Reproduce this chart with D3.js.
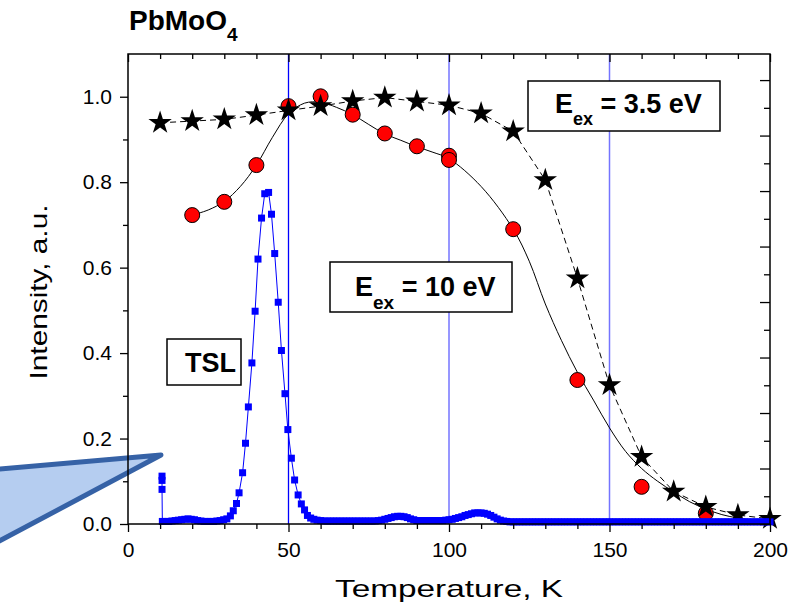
<!DOCTYPE html>
<html><head><meta charset="utf-8">
<script src="https://cdn.jsdelivr.net/npm/d3@7/dist/d3.min.js"></script>
<style>body{margin:0;background:#fff}text{font-family:"Liberation Sans",Arial,sans-serif}</style>
</head><body><svg id="c" width="793" height="607"></svg>
<script>
// ---------- data ----------
const xMajorTicks = [0, 50, 100, 150, 200];
const xMinorTicks = [10,20,30,40,60,70,80,90,110,120,130,140,160,170,180,190];
const yMajorTicks = [0, 0.2, 0.4, 0.6, 0.8, 1.0];
const yMinorTicks = [0.1, 0.3, 0.5, 0.7, 0.9];
const rightMajorTicks = [0,1,2,3,4,5,6,7,8];
const rightMinorTicks = [0.5,1.5,2.5,3.5,4.5,5.5,6.5,7.5];
const guideLinesT = [50, 100, 150];

// E_ex = 3.5 eV (stars)
const starT = [10,20,30,40,50,60,70,80,90,100,110,120,130,140,150,160,170,180,190,200];
const starI = [0.939,0.943,0.947,0.957,0.968,0.978,0.99,0.998,0.989,0.98,0.961,0.919,0.805,0.575,0.325,0.157,0.076,0.04,0.021,0.012];

// E_ex = 10 eV (circles)
const circT = [20,30,40,50,60,70,80,90,100,100,120,140,160,180];
const circI = [0.723,0.754,0.84,0.978,1.001,0.958,0.914,0.884,0.862,0.852,0.69,0.337,0.087,0.025];

// smooth curve drawn through the 10 eV points
const fitT = [20,25,30,35,40,45,50,55,60,65,70,75,80,85,90,95,100,110,120,125,130,135,140,145,150,155,160,165,170,175,180,185,190,195,200];
const fitI = [0.723,0.735,0.755,0.79,0.84,0.905,0.96,0.985,0.987,0.975,0.958,0.935,0.913,0.898,0.883,0.87,0.855,0.79,0.69,0.615,0.515,0.43,0.355,0.29,0.225,0.17,0.13,0.1,0.075,0.052,0.035,0.022,0.014,0.009,0.006];

// TSL curve [T, I]
const tslPoints = [
 [10.6,0.112],[10.6,0.102],[10.6,0.081],[10.7,0.006],
 [11.7,0.006],[12.7,0.006],[13.7,0.007],[14.7,0.008],[15.7,0.009],[16.7,0.010],[17.7,0.011],[18.7,0.012],[19.7,0.011],
 [20.7,0.010],[21.7,0.008],[22.7,0.007],[23.7,0.006],[24.7,0.006],[25.7,0.006],[26.7,0.006],[27.7,0.007],[28.7,0.008],
 [29.8,0.010],[30.8,0.012],[31.9,0.019],[32.8,0.031],[33.8,0.048],[34.6,0.073],[35.7,0.12],[36.6,0.189],[37.5,0.274],
 [38.6,0.377],[39.6,0.498],[40.5,0.62],[41.6,0.716],[42.6,0.773],[43.8,0.776],[44.7,0.725],[45.7,0.633],[46.8,0.519],
 [47.8,0.406],[48.9,0.305],[49.8,0.221],[50.9,0.154],[51.9,0.103],[53.0,0.068],[54.0,0.047],[55.0,0.033],[55.9,0.020],
 [56.9,0.014],[57.9,0.011],[58.9,0.009],[60,0.008],
 [61,0.007],[62,0.007],[63,0.007],[64,0.007],[65,0.007],[66,0.007],[67,0.007],[68,0.007],[69,0.007],[70,0.007],
 [71,0.007],[72,0.007],[73,0.007],[74,0.007],[75,0.007],[76,0.007],[77,0.007],[78,0.008],[79,0.009],[80,0.011],
 [81,0.013],[82,0.015],[83,0.017],[84,0.018],[85,0.018],[86,0.017],[87,0.015],[88,0.012],[89,0.010],[90,0.008],
 [91,0.008],[92,0.008],[93,0.008],[94,0.008],[95,0.008],[96,0.008],[97,0.008],[98,0.008],[99,0.009],[100,0.010],
 [101,0.011],[102,0.013],[103,0.015],[104,0.017],[105,0.020],[106,0.022],[107,0.024],[108,0.026],[109,0.026],[110,0.026],
 [111,0.025],[112,0.023],[113,0.020],[114,0.016],[115,0.012],[116,0.009],[117,0.007],[118,0.006],[119,0.005],[120,0.005],
 [121,0.005],[122,0.005],[123,0.005],[124,0.005],[125,0.005],[126,0.005],[127,0.005],[128,0.005],[129,0.005],[130,0.005],
 [131,0.005],[132,0.005],[133,0.005],[134,0.005],[135,0.005],[136,0.005],[137,0.005],[138,0.005],[139,0.005],[140,0.005],
 [141,0.005],[142,0.005],[143,0.005],[144,0.005],[145,0.005],[146,0.005],[147,0.005],[148,0.005],[149,0.005],[150,0.005],
 [151,0.005],[152,0.005],[153,0.005],[154,0.005],[155,0.005],[156,0.005],[157,0.005],[158,0.005],[159,0.005],[160,0.005],
 [161,0.005],[162,0.005],[163,0.005],[164,0.005],[165,0.005],[166,0.005],[167,0.005],[168,0.005],[169,0.005],[170,0.005],
 [171,0.005],[172,0.005],[173,0.005],[174,0.005],[175,0.005],[176,0.005],[177,0.005],[178,0.005],[179,0.005],[180,0.005],
 [181,0.005],[182,0.005],[183,0.005],[184,0.005],[185,0.005],[186,0.005],[187,0.005],[188,0.005],[189,0.005],[190,0.005],
 [191,0.005],[192,0.005],[193,0.005],[194,0.005],[195,0.005],[196,0.005],[197,0.005],[198,0.005],[199,0.005],[200,0.005]
];

// ---------- layout ----------
const L = 128, R = 770, T = 54, B = 524;
const svg = d3.select("#c");
svg.append("rect").attr("width",793).attr("height",607).attr("fill","#fff");

const x = d3.scaleLinear().domain([0,200]).range([L,R]);
const y = d3.scaleLinear().domain([0,1.1]).range([B,T]);
const yR = d3.scaleLinear().domain([0,8.47]).range([B,T]);

// callout shape at the left
const callout = [[-40,472.5],[161,455],[-40,562]];
svg.append("path").attr("d", d3.line()(callout) + "Z")
  .attr("fill","#b5cdf0").attr("stroke","#3662a6").attr("stroke-width",5).attr("stroke-linejoin","round");

// guide lines
svg.selectAll(".gl").data(guideLinesT).join("line")
  .attr("x1",d=>x(d)).attr("x2",d=>x(d)).attr("y1",T).attr("y2",B)
  .attr("stroke",(d,i)=>i===0?"#0000ff":"#7474ff").attr("stroke-width",(d,i)=>i===0?1.3:1.5);

const g = svg.append("g");

// fit curve for 10 eV
const fitData = fitT.map((t,i)=>[t,fitI[i]]);
g.append("path").attr("d", d3.line().x(d=>x(d[0])).y(d=>y(d[1])).curve(d3.curveCatmullRom)(fitData))
  .attr("fill","none").attr("stroke","#000").attr("stroke-width",1);

// star line
const starData = starT.map((t,i)=>[t,starI[i]]);
g.append("path").attr("d", d3.line().x(d=>x(d[0])).y(d=>y(d[1]))(starData))
  .attr("fill","none").attr("stroke","#000").attr("stroke-width",1).attr("stroke-dasharray","6,4");

// circles
const circData = circT.map((t,i)=>[t,circI[i]]);
g.selectAll(".ci").data(circData).join("circle")
  .attr("cx",d=>x(d[0])).attr("cy",d=>y(d[1])).attr("r",7.5)
  .attr("fill","#ff0000").attr("stroke","#000").attr("stroke-width",1);

// stars
const star = d3.symbol(d3.symbolStar, 170);
g.selectAll(".st").data(starData).join("path")
  .attr("d", star).attr("transform",d=>`translate(${x(d[0])},${y(d[1])})`).attr("fill","#000");

// TSL line + squares
g.append("path").attr("d", d3.line().x(d=>x(d[0])).y(d=>y(d[1]))(tslPoints))
  .attr("fill","none").attr("stroke","#0000ff").attr("stroke-width",1);
const sq = d3.symbol(d3.symbolSquare, 49);
g.selectAll(".sq").data(tslPoints).join("path")
  .attr("d", sq).attr("transform",d=>`translate(${x(d[0])},${y(d[1])})`).attr("fill","#0000ff");

// ---------- axes ----------
function styleAxis(sel){ sel.select(".domain").remove(); sel.selectAll("line").attr("stroke","#000").attr("stroke-width",1.3);
  sel.selectAll("text").attr("fill","#000").style("font-size","21px").style("font-family",'"Liberation Sans",Arial,sans-serif'); }

svg.append("g").attr("transform",`translate(0,${B})`)
  .call(d3.axisBottom(x).tickValues(xMajorTicks).tickSize(8).tickPadding(10).tickFormat(d3.format("d"))).call(styleAxis);
svg.append("g").attr("transform",`translate(0,${B})`)
  .call(d3.axisBottom(x).tickValues(xMinorTicks).tickSize(5).tickFormat("")).call(styleAxis);
svg.append("g").attr("transform",`translate(0,${T})`)
  .call(d3.axisBottom(x).tickValues(xMajorTicks).tickSize(8).tickFormat("")).call(styleAxis);
svg.append("g").attr("transform",`translate(0,${T})`)
  .call(d3.axisBottom(x).tickValues(xMinorTicks).tickSize(5).tickFormat("")).call(styleAxis);

svg.append("g").attr("transform",`translate(${L},0)`)
  .call(d3.axisLeft(y).tickValues(yMajorTicks).tickSize(8).tickPadding(8).tickFormat(d3.format(".1f"))).call(styleAxis);
svg.append("g").attr("transform",`translate(${L},0)`)
  .call(d3.axisLeft(y).tickValues(yMinorTicks).tickSize(5).tickFormat("")).call(styleAxis);

svg.append("g").attr("transform",`translate(${R},0)`)
  .call(d3.axisLeft(yR).tickValues(rightMajorTicks).tickSize(10).tickFormat("")).call(styleAxis);
svg.append("g").attr("transform",`translate(${R},0)`)
  .call(d3.axisLeft(yR).tickValues(rightMinorTicks).tickSize(6).tickFormat("")).call(styleAxis);

svg.append("rect").attr("x",L).attr("y",T).attr("width",R-L).attr("height",B-T)
  .attr("fill","none").attr("stroke","#000").attr("stroke-width",1.5);

// ---------- texts ----------
const title = svg.append("text").attr("x",129).attr("y",30).attr("font-weight","bold").attr("font-size",28).attr("fill","#000");
title.append("tspan").text("PbMoO");
title.append("tspan").attr("font-size",19).attr("dy",11).text("4");

svg.append("text").attr("x",(L+R)/2).attr("y",597).attr("text-anchor","middle").attr("font-size",24)
  .attr("textLength",228).attr("lengthAdjust","spacingAndGlyphs").text("Temperature, K");
svg.append("text").attr("transform","translate(47,292) rotate(-90)").attr("text-anchor","middle").attr("font-size",24)
  .attr("textLength",175).attr("lengthAdjust","spacingAndGlyphs").text("Intensity, a.u.");

function eBox(x0,y0,w,h,tx,ty,subDy,subSize,rest){
  svg.append("rect").attr("x",x0).attr("y",y0).attr("width",w).attr("height",h)
    .attr("fill","#fff").attr("stroke","#000").attr("stroke-width",1.5);
  const t = svg.append("text").attr("x",tx).attr("y",ty).attr("font-weight","bold").attr("font-size",27);
  t.append("tspan").text("E");
  t.append("tspan").attr("font-size",subSize).attr("dy",subDy).text("ex");
  t.append("tspan").attr("dy",-subDy).text(rest);
}
eBox(528,81,192,50,555,113,12,18," = 3.5 eV");
eBox(330,262,182,50,355,296,13,19," = 10 eV");

svg.append("rect").attr("x",167).attr("y",339).attr("width",74).attr("height",46)
  .attr("fill","#fff").attr("stroke","#000").attr("stroke-width",1.5);
svg.append("text").attr("x",185).attr("y",372).attr("font-weight","bold").attr("font-size",27).text("TSL");
</script></body></html>
